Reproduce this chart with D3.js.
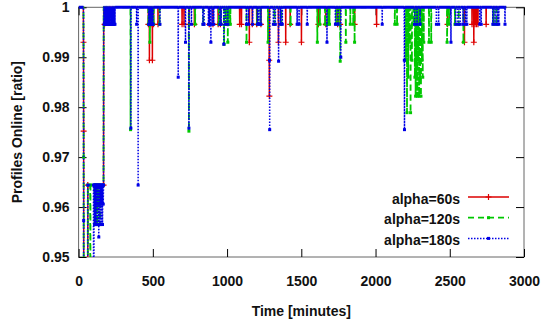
<!DOCTYPE html>
<html>
<head>
<meta charset="utf-8">
<script src="https://cdn.jsdelivr.net/npm/d3@7"></script>
<style>
  body { margin: 0; background: #fff; }
  text { font-family: "Liberation Sans", Arial, sans-serif; font-weight: bold; }
</style>
</head>
<body>
<div id="chart"></div>
<script>
// value between the dips: every profile online
const BASE = 1;
const END_TIME = 2880;

const xTicks = [0, 500, 1000, 1500, 2000, 2500, 3000];
const yTicks = [0.95, 0.96, 0.97, 0.98, 0.99, 1];
const seriesLabels = ['alpha=60s', 'alpha=120s', 'alpha=180s'];

// start of the run: drop out, plateau, recovery ([minute, ratio])
const redEarly = [[0,1],[32,1],[33,0.993],[34,0.9752],[35,0.90],[61,0.90],[62,0.9644],[168,0.9644],[169,1]];
const greenEarly = [[0,1],[33,1],[34,0.970],[35,0.90],[61,0.90],[62,0.9644],[78,0.9644],[79,0.90],[80,0.9644],
  [106,0.9644],[108,0.9565],[110,0.9644],[118,0.9565],[120,0.9644],[126,0.9565],[128,0.9644],[134,0.9606],
  [136,0.9644],[144,0.9565],[146,0.9644],[168,0.9644],[169,1]];
const blueEarly = [[0,1],[33,1],[34,0.9573],[35,0.90],[61,0.90],[62,0.9644],[100,0.9644],[102,0.90],[104,0.9644],
  [108,0.9565],[110,0.9644],[112,0.9606],[114,0.9644],[116,0.9565],[118,0.9644],[121,0.9565],[123,0.9644],
  [126,0.9606],[128,0.9644],[131,0.9565],[133,0.9644],[136,0.9540],[138,0.9644],[141,0.9565],[143,0.9644],
  [146,0.9606],[148,0.9644],[151,0.9565],[153,0.9644],[156,0.9606],[158,0.9644],[161,0.9565],[163,0.9644],
  [166,0.9606],[168,0.9644],[169,1]];

// short dips after that ([minute, ratio]); the line is back at BASE around each one
const redDips = [[175,0.9966],[470,0.9966],[477,0.9894],[487,0.9966],[497,0.9894],[505,0.9966],[535,0.9966],
  [697,0.9966],[710,0.9966],[745,0.9966],[780,0.9966],[880,0.9966],[905,0.9966],[940,0.9966],[955,0.9966],
  [1085,0.9966],[1097,0.9966],[1150,0.993],[1170,0.9966],[1200,0.9966],[1228,0.9966],[1284,0.9894],[1285,0.9822],
  [1346,0.993],[1395,0.993],[1425,0.9966],[1501,0.993],[1615,0.9966],[1665,0.9966],[1745,0.9966],[1762,0.9966],
  [1859,0.9966],[2007,0.9966],[2485,0.9966],[2599,0.993],[2650,0.9966],[2662,0.993],[2670,0.9966],[2680,0.9966],
  [2690,0.9966],[2745,0.9966]];
const greenDips = [[174,0.9966],[180,0.9966],[350,0.9755],[470,0.9966],[480,0.993],[490,0.9966],[505,0.9966],
  [545,0.9966],[743,0.9752],[785,0.9966],[840,0.9966],[945,0.9966],[958,0.9966],[980,0.9926],[990,0.9966],
  [1000,0.9966],[1005,0.993],[1012,0.9966],[1022,0.9966],[1131,0.993],[1203,0.9966],[1225,0.9966],[1276,0.993],
  [1320,0.9966],[1365,0.9966],[1428,0.9966],[1608,0.993],[1625,0.9966],[1660,0.9966],[1680,0.9966],[1690,0.9966],
  [1735,0.9966],[1750,0.9966],[1762,0.9892],[1800,0.993],[1830,0.9966],[1850,0.9966],[1859,0.993],[2130,0.9966],
  [2145,0.9966],[2205,0.9894],[2212,0.9789],[2220,0.986],[2228,0.993],[2236,0.9789],[2245,0.9894],[2255,0.9966],
  [2265,0.986],[2270,0.9822],[2276,0.986],[2282,0.9822],[2288,0.9894],[2294,0.9822],[2300,0.986],[2306,0.9822],
  [2312,0.9894],[2318,0.986],[2325,0.993],[2360,0.993],[2375,0.993],[2482,0.993],[2495,0.9966],[2535,0.9966],
  [2560,0.9966],[2592,0.993],[2795,0.9966],[2815,0.9966]];
const blueDips = [[172,0.9966],[176,0.9966],[180,0.9966],[184,0.9966],[188,0.9966],[192,0.9966],[196,0.9966],
  [200,0.9966],[204,0.9966],[208,0.9966],[212,0.9966],[216,0.9966],[220,0.9966],[224,0.9966],[228,0.9966],
  [232,0.9966],[236,0.9966],[240,0.9966],[245,0.9966],[352,0.9758],[391,0.9966],[401,0.9644],[472,0.9966],
  [478,0.9966],[484,0.9966],[490,0.9966],[496,0.9966],[502,0.9966],[548,0.9966],[671,0.986],[720,0.993],
  [743,0.9758],[760,0.9966],[837,0.9966],[845,0.9966],[875,0.9966],[882,0.9966],[891,0.993],[900,0.9966],
  [910,0.9966],[951,0.9966],[960,0.9966],[978,0.9926],[990,0.9966],[1005,0.9966],[1131,0.9966],[1145,0.9966],
  [1172,0.9966],[1205,0.9966],[1215,0.9966],[1228,0.9966],[1286,0.9894],[1287,0.9755],[1312,0.9966],[1325,0.9966],
  [1347,0.9892],[1360,0.9966],[1372,0.9966],[1472,0.9966],[1485,0.9966],[1540,0.9966],[1673,0.993],[1730,0.9966],
  [1748,0.9966],[1766,0.990],[2045,0.9966],[2194,0.9894],[2195,0.9755],[2263,0.9966],[2280,0.9966],[2300,0.9966],
  [2410,0.9966],[2425,0.9966],[2508,0.993],[2540,0.9966],[2555,0.9966],[2570,0.9966],[2590,0.9966],[2605,0.9966],
  [2615,0.9966],[2702,0.9966],[2712,0.9966],[2790,0.9966],[2805,0.9966],[2820,0.9966],[2830,0.9966],[2872,0.9966]];

const dims = { width: 541, height: 324 };
const plot = { left: 78.6, right: 524, top: 7.3, bottom: 257 };

const xScale = d3.scaleLinear().domain([0, 3000]).range([plot.left, plot.right]);
const yScale = d3.scaleLinear().domain([0.95, 1]).range([plot.bottom, plot.top]);

// early points, then each dip with the BASE point a minute before and after it
function buildSeries(early, dips) {
  const pts = early.slice();
  dips.forEach(([t, v], i) => {
    const last = pts[pts.length - 1][0];
    const next = i + 1 < dips.length ? dips[i + 1][0] : END_TIME;
    if (t - 1 > last) pts.push([t - 1, BASE]);
    pts.push([t, v]);
    if (t + 1 < next) pts.push([t + 1, BASE]);
  });
  pts.push([END_TIME, BASE]);
  return pts;
}

const series = [
  { name: seriesLabels[0], color: '#dd0000', width: 1.5, dash: null, mark: 'plus', data: buildSeries(redEarly, redDips) },
  { name: seriesLabels[1], color: '#00c800', width: 1.8, dash: '6,4', mark: 'square', data: buildSeries(greenEarly, greenDips) },
  { name: seriesLabels[2], color: '#0000e6', width: 1.5, dash: '1.5,1.5', mark: 'square', data: buildSeries(blueEarly, blueDips) }
];

const svg = d3.select('#chart').append('svg')
  .attr('width', dims.width)
  .attr('height', dims.height);

svg.append('defs').append('clipPath').attr('id', 'plot-clip')
  .append('rect')
  .attr('x', plot.left).attr('y', plot.top - 3)
  .attr('width', plot.right - plot.left)
  .attr('height', plot.bottom - plot.top + 3);

// frame
svg.append('rect')
  .attr('x', plot.left).attr('y', plot.top)
  .attr('width', plot.right - plot.left)
  .attr('height', plot.bottom - plot.top)
  .attr('fill', 'none')
  .attr('stroke', '#666')
  .attr('stroke-width', 1);

// inward ticks on all four sides
const bottomAxis = svg.append('g')
  .attr('transform', `translate(0,${plot.bottom})`)
  .call(d3.axisBottom(xScale).tickValues(xTicks).tickSizeInner(-8).tickSizeOuter(0).tickPadding(19)
    .tickFormat(d3.format('d')));
const topAxis = svg.append('g')
  .attr('transform', `translate(0,${plot.top})`)
  .call(d3.axisTop(xScale).tickValues(xTicks).tickSizeInner(-8).tickSizeOuter(0).tickFormat(''));
const leftAxis = svg.append('g')
  .attr('transform', `translate(${plot.left},0)`)
  .call(d3.axisLeft(yScale).tickValues(yTicks).tickSizeInner(-8).tickSizeOuter(0).tickPadding(9)
    .tickFormat(d => d === 1 ? '1' : d3.format('.2f')(d)));
const rightAxis = svg.append('g')
  .attr('transform', `translate(${plot.right},0)`)
  .call(d3.axisRight(yScale).tickValues(yTicks).tickSizeInner(-8).tickSizeOuter(0).tickFormat(''));

[bottomAxis, topAxis, leftAxis, rightAxis].forEach(a => {
  a.select('.domain').remove();
  a.selectAll('.tick line').attr('stroke', '#000').attr('stroke-width', 1);
  a.selectAll('.tick text')
    .attr('font-size', 14)
    .attr('font-family', '"Liberation Sans", Arial, sans-serif')
    .attr('font-weight', 'bold')
    .attr('fill', '#111');
});

const g = svg.append('g').attr('clip-path', 'url(#plot-clip)');
const line = d3.line().x(d => xScale(d[0])).y(d => yScale(d[1]));

function drawMarks(sel, s, pts) {
  if (s.mark === 'plus') {
    sel.selectAll('path.mark')
      .data(pts)
      .join('path')
      .attr('class', 'mark')
      .attr('d', d => `M${xScale(d[0]) - 3},${yScale(d[1])}h6M${xScale(d[0])},${yScale(d[1]) - 3}v6`)
      .attr('stroke', s.color)
      .attr('stroke-width', 1.2);
  } else {
    sel.selectAll('rect.mark')
      .data(pts)
      .join('rect')
      .attr('class', 'mark')
      .attr('x', d => xScale(d[0]) - 1.5)
      .attr('y', d => yScale(d[1]) - 1.5)
      .attr('width', 3)
      .attr('height', 3)
      .attr('fill', s.color);
  }
}

series.forEach(s => {
  const sg = g.append('g');
  sg.append('path')
    .datum(s.data)
    .attr('d', line)
    .attr('fill', 'none')
    .attr('stroke', s.color)
    .attr('stroke-width', s.width)
    .attr('stroke-dasharray', s.dash);
  drawMarks(sg, s, s.data.filter(d => d[1] !== BASE));
});

// the points along ratio 1 are so dense they read as a thick blue band
g.append('path')
  .datum(series[2].data)
  .attr('d', d3.line().defined(d => d[1] === BASE).x(d => xScale(d[0])).y(d => yScale(d[1])))
  .attr('fill', 'none')
  .attr('stroke', series[2].color)
  .attr('stroke-width', 3);

// legend
const legend = svg.append('g');
const legendItem = legend.selectAll('g')
  .data(series)
  .join('g')
  .attr('transform', (_, i) => `translate(0,${197 + i * 20.7})`);

legendItem.append('text')
  .attr('x', 460)
  .attr('y', 6.5)
  .attr('text-anchor', 'end')
  .attr('font-size', 14)
  .attr('fill', '#111')
  .text(d => d.name);

legendItem.append('line')
  .attr('x1', 468).attr('x2', 509)
  .attr('y1', 0).attr('y2', 0)
  .attr('stroke', d => d.color)
  .attr('stroke-width', d => d.width)
  .attr('stroke-dasharray', d => d.dash);

legendItem.each(function (d) {
  const item = d3.select(this);
  if (d.mark === 'plus') {
    item.append('path').attr('d', 'M485.5,0h6M488.5,-3v6').attr('stroke', d.color).attr('stroke-width', 1.2);
  } else {
    item.append('rect').attr('x', 487).attr('y', -1.5).attr('width', 3).attr('height', 3).attr('fill', d.color);
  }
});

// axis titles
svg.append('text')
  .attr('x', (plot.left + plot.right) / 2)
  .attr('y', 316)
  .attr('text-anchor', 'middle')
  .attr('font-size', 14)
  .attr('fill', '#111')
  .text('Time [minutes]');

svg.append('text')
  .attr('transform', `translate(22,${(plot.top + plot.bottom) / 2}) rotate(-90)`)
  .attr('text-anchor', 'middle')
  .attr('font-size', 14)
  .attr('fill', '#111')
  .text('Profiles Online [ratio]');
</script>
</body>
</html>
